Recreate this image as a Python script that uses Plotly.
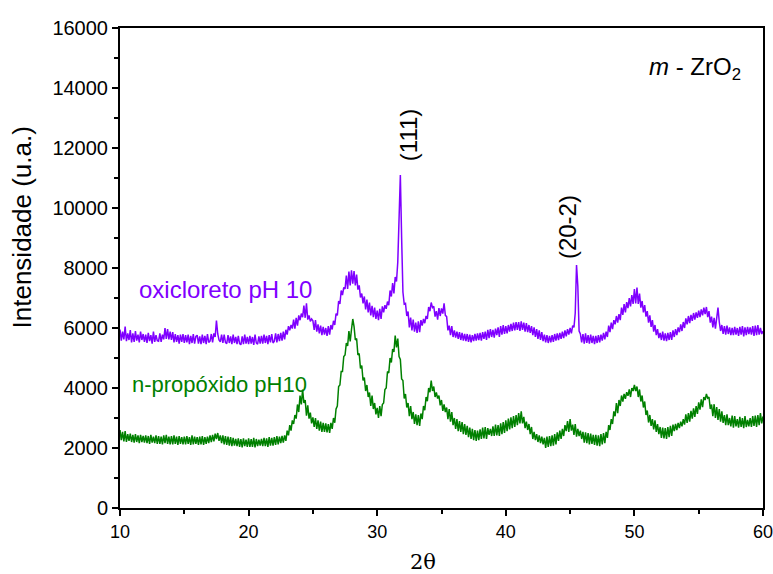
import plotly.graph_objects as go

# 2theta grid: 10.0 .. 60.0 step 0.1
two_theta = [round(10 + 0.1 * i, 1) for i in range(501)]

oxicloreto = [
    5950, 5580, 5880, 5620, 6050, 5560, 5820, 5600, 5930, 5520,
    5820, 5540, 5900, 5580, 5780, 5520, 5880, 5600, 5800, 5540,
    5780, 5500, 5840, 5560, 5760, 5480, 5880, 5540, 5760, 5580,
    5560, 5820, 5540, 5780, 5620, 6000, 5640, 5960, 5620, 5880,
    5600, 5860, 5520, 5800, 5540, 5760, 5480, 5780, 5540, 5800,
    5500, 5760, 5520, 5780, 5460, 5740, 5500, 5800, 5480, 5720,
    5760, 5480, 5720, 5460, 5780, 5500, 5740, 5460, 5800, 5520,
    5560, 5800, 5520, 5820, 5700, 6250, 5800, 5600, 5540, 5780,
    5500, 5780, 5520, 5480, 5760, 5500, 5720, 5460, 5780, 5500,
    5700, 5460, 5740, 5480, 5440, 5720, 5460, 5780, 5480, 5700,
    5460, 5740, 5480, 5700, 5440, 5780, 5500, 5460, 5720, 5480,
    5740, 5480, 5780, 5500, 5740, 5460, 5760, 5520, 5800, 5500,
    5560, 5820, 5520, 5800, 5560, 5840, 5580, 5880, 5620, 5940,
    5780, 6060, 5920, 6100, 5980, 6280, 5980, 6340, 6080, 6420,
    6260, 6480, 6360, 6750, 6340, 6820, 6280, 6420, 6220, 6300,
    6240, 5940, 6260, 5880, 6120, 5820, 6080, 5760, 6040, 5780,
    6000, 5740, 6060, 5780, 6100, 5950, 6240, 6100, 6480, 6420,
    6900, 6800, 7250, 7100, 7350, 7300, 7750, 7300, 7880, 7420,
    7920, 7480, 7900, 7420, 7780, 7280, 7420, 7020, 7150, 6820,
    7050, 6620, 6950, 6520, 6850, 6420, 6740, 6360, 6680, 6300,
    6580, 6260, 6640, 6300, 6720, 6520, 6760, 6640, 6880, 6760,
    7250, 7050, 7500, 7150, 7700, 7550, 8200, 9800, 11100, 9000,
    7200, 6800, 6820, 6400, 6550, 6020, 6350, 5920, 6280, 5880,
    6180, 5840, 6220, 5860, 6260, 6080, 6300, 6160, 6400, 6300,
    6700, 6560, 6850, 6680, 6720, 6380, 6560, 6280, 6660, 6400,
    6650, 6480, 6820, 6420, 6380, 5920, 6080, 5760, 6060, 5700,
    5920, 5680, 5880, 5640, 5860, 5600, 5840, 5580, 5800, 5560,
    5800, 5540, 5780, 5520, 5760, 5560, 5800, 5580, 5820, 5600,
    5840, 5580, 5860, 5640, 5880, 5600, 5940, 5660, 5960, 5700,
    5940, 5680, 5980, 5760, 6020, 5700, 6060, 5780, 6100, 5800,
    6060, 5820, 6100, 5880, 6140, 5900, 6180, 5920, 6200, 5940,
    6200, 5900, 6220, 5940, 6180, 5880, 6160, 5860, 6100, 5840,
    6060, 5760, 6020, 5700, 5960, 5640, 5920, 5600, 5860, 5560,
    5780, 5520, 5760, 5500, 5740, 5520, 5760, 5540, 5800, 5580,
    5820, 5600, 5840, 5640, 5880, 5660, 5920, 5720, 5960, 5780,
    6000, 5820, 6080, 6020, 6500, 8100, 7400, 5900, 5800, 5520,
    5800, 5480, 5820, 5500, 5760, 5480, 5780, 5500, 5740, 5460,
    5740, 5500, 5760, 5520, 5780, 5580, 5840, 5620, 5880, 5700,
    6080, 5860, 6180, 5960, 6260, 6120, 6400, 6180, 6460, 6260,
    6680, 6440, 6800, 6520, 6860, 6660, 7000, 6720, 7100, 6800,
    7300, 6820, 7350, 6800, 7150, 6680, 6900, 6520, 6760, 6380,
    6560, 6180, 6420, 6040, 6260, 5880, 6100, 5760, 5960, 5660,
    5840, 5600, 5880, 5580, 5820, 5560, 5840, 5600, 5860, 5600,
    5920, 5700, 5960, 5760, 6020, 5860, 6120, 5900, 6200, 6000,
    6320, 6120, 6400, 6160, 6440, 6240, 6500, 6280, 6520, 6340,
    6580, 6360, 6620, 6420, 6680, 6460, 6700, 6360, 6560, 6180,
    6380, 6020, 6340, 5980, 6360, 6680, 6200, 5900, 6100, 5800,
    6060, 5780, 6080, 5800, 6020, 5760, 6000, 5760, 6040, 5780,
    6000, 5740, 6040, 5780, 6060, 5720, 6020, 5760, 6040, 5800,
    6020, 5780, 6060, 5740, 6080, 5760, 6100, 5780, 6000, 5800,
    5900,
]

npropoxido = [
    2600, 2260, 2540, 2220, 2560, 2200, 2460, 2240, 2480, 2200,
    2440, 2180, 2460, 2200, 2420, 2160, 2440, 2200, 2400, 2180,
    2420, 2160, 2400, 2140, 2440, 2180, 2380, 2160, 2420, 2140,
    2400, 2140, 2380, 2120, 2420, 2160, 2440, 2140, 2380, 2120,
    2400, 2120, 2420, 2140, 2380, 2100, 2400, 2140, 2360, 2120,
    2380, 2120, 2400, 2140, 2360, 2100, 2420, 2120, 2380, 2140,
    2360, 2100, 2380, 2120, 2400, 2100, 2360, 2140, 2380, 2160,
    2420, 2200, 2440, 2220, 2480, 2300, 2500, 2240, 2420, 2160,
    2420, 2120, 2400, 2100, 2380, 2080, 2360, 2060, 2340, 2080,
    2300, 2060, 2320, 2040, 2300, 2020, 2320, 2060, 2280, 2040,
    2320, 2040, 2300, 2040, 2340, 2020, 2300, 2060, 2280, 2080,
    2300, 2060, 2340, 2060, 2320, 2040, 2360, 2080, 2340, 2080,
    2360, 2100, 2400, 2120, 2380, 2160, 2400, 2180, 2420, 2240,
    2580, 2420, 2760, 2580, 2920, 2800, 3100, 2980, 3450, 3200,
    3750, 3450, 3950, 3500, 3600, 3080, 3420, 2980, 3180, 2820,
    3020, 2700, 3000, 2640, 2920, 2580, 2880, 2540, 2840, 2540,
    2820, 2520, 2800, 2500, 2840, 2640, 3000, 2840, 3300, 3400,
    4050, 4100, 4550, 4550, 5050, 5100, 5500, 5400, 5900, 5550,
    5950, 6300, 6050, 5600, 5650, 5100, 5150, 4650, 4750, 4250,
    4350, 3900, 4100, 3700, 3850, 3400, 3750, 3300, 3500, 3120,
    3340, 3000, 3400, 3060, 3450, 3500, 3950, 4000, 4550, 4500,
    5000, 4850, 5300, 5200, 5750, 5350, 5650, 5050, 4950, 4300,
    4250, 3650, 3800, 3350, 3500, 3060, 3400, 2960, 3200, 2800,
    3120, 2760, 3100, 2740, 3150, 2960, 3400, 3260, 3700, 3560,
    4000, 3860, 4250, 3900, 4050, 3700, 3850, 3650, 3750, 3420,
    3600, 3240, 3450, 3200, 3350, 2960, 3300, 2880, 3200, 2760,
    3000, 2640, 2960, 2560, 2900, 2540, 2860, 2460, 2800, 2440,
    2740, 2360, 2680, 2300, 2640, 2260, 2600, 2240, 2580, 2260,
    2620, 2300, 2680, 2320, 2700, 2300, 2660, 2440, 2640, 2400,
    2720, 2400, 2780, 2420, 2760, 2400, 2820, 2460, 2860, 2500,
    2920, 2560, 2980, 2620, 3020, 2660, 3060, 2700, 3100, 2760,
    3160, 2820, 3220, 2820, 3040, 2660, 2880, 2600, 2800, 2460,
    2700, 2300, 2540, 2260, 2460, 2200, 2420, 2160, 2380, 2120,
    2340, 2000, 2380, 2040, 2400, 2060, 2420, 2080, 2460, 2120,
    2520, 2240, 2580, 2300, 2640, 2400, 2760, 2560, 2900, 2540,
    2960, 2580, 2780, 2440, 2800, 2380, 2640, 2400, 2580, 2300,
    2540, 2180, 2520, 2160, 2500, 2120, 2480, 2140, 2440, 2100,
    2440, 2080, 2420, 2060, 2460, 2120, 2500, 2160, 2540, 2340,
    2760, 2600, 2960, 2800, 3220, 3060, 3500, 3160, 3600, 3400,
    3750, 3550, 3800, 3640, 3860, 3740, 3950, 3700, 4000, 3900,
    4100, 3900, 4050, 3700, 3950, 3550, 3750, 3350, 3550, 3100,
    3250, 2850, 3100, 2740, 2960, 2620, 2920, 2540, 2800, 2460,
    2700, 2340, 2680, 2320, 2660, 2300, 2700, 2360, 2740, 2400,
    2780, 2560, 2800, 2600, 2840, 2660, 2880, 2720, 2960, 2780,
    3120, 2840, 3160, 2880, 3240, 2980, 3320, 3040, 3400, 3140,
    3520, 3280, 3620, 3360, 3700, 3600, 3800, 3660, 3700, 3300,
    3450, 3060, 3460, 3000, 3360, 2940, 3300, 2880, 3220, 2840,
    3100, 2760, 3120, 2760, 3000, 2720, 3080, 2680, 3060, 2720,
    2960, 2680, 3040, 2700, 3000, 2660, 3060, 2700, 2940, 2720,
    3000, 2700, 3060, 2740, 3080, 2700, 3100, 2760, 3160, 2820,
    3050,
]

series_names = ["oxicloreto pH 10", "n-propóxido pH10"]
colors = ["#7F00FF", "#008000"]
x_ticks = [10, 20, 30, 40, 50, 60]
y_ticks = [0, 2000, 4000, 6000, 8000, 10000, 12000, 14000, 16000]

fig = go.Figure()
for ys, name, c in zip([oxicloreto, npropoxido], series_names, colors):
    fig.add_trace(go.Scatter(x=two_theta, y=ys, mode="lines", name=name,
                             line=dict(color=c, width=1.5), showlegend=False))

FONT = "Liberation Sans, Arial, sans-serif"

fig.add_annotation(x=11.3, y=7300, text="oxicloreto pH 10", showarrow=False,
                   xanchor="left", yanchor="middle",
                   font=dict(family=FONT, size=24, color=colors[0]))
fig.add_annotation(x=10.75, y=4130, text="n-propóxido pH10", showarrow=False,
                   xanchor="left", yanchor="middle",
                   font=dict(family=FONT, size=22, color=colors[1]))
fig.add_annotation(x=32.4, y=12430, text="(111)", showarrow=False, textangle=-90,
                   font=dict(family=FONT, size=24, color="black"))
fig.add_annotation(x=44.85, y=9370, text="(20-2)", showarrow=False, textangle=-90,
                   font=dict(family=FONT, size=24, color="black"))
fig.add_annotation(x=54.7, y=14650, text="<i>m</i> - ZrO<sub>2</sub>", showarrow=False,
                   font=dict(family=FONT, size=24, color="black"))

# axis titles as paper annotations
fig.add_annotation(xref="paper", yref="paper", x=-0.152, y=0.585, text="Intensidade (u.a.)",
                   textangle=-90, showarrow=False, xanchor="center", yanchor="middle",
                   font=dict(family=FONT, size=26, color="black"))
fig.add_annotation(xref="paper", yref="paper", x=0.471, y=-0.1125, text="2θ",
                   showarrow=False, xanchor="center", yanchor="middle",
                   font=dict(family="DejaVu Serif, serif", size=21, color="black"))

axis_common = dict(showgrid=False, zeroline=False, showline=True, linecolor="black",
                   linewidth=2, mirror=True, ticks="outside", tickcolor="black",
                   tickwidth=2, ticklen=6, automargin=False, ticklabeloverflow="allow")

fig.update_xaxes(range=[10, 60], tickvals=x_ticks, ticktext=[str(v) for v in x_ticks],
                 tickfont=dict(family=FONT, size=18, color="black"),
                 minor=dict(dtick=5, tick0=0, ticks="outside", ticklen=4, tickwidth=2, tickcolor="black"),
                 **axis_common)
fig.update_yaxes(range=[0, 16000], tickvals=y_ticks, ticktext=[str(v) for v in y_ticks],
                 tickfont=dict(family=FONT, size=20, color="black"),
                 minor=dict(dtick=1000, tick0=0, ticks="outside", ticklen=4, tickwidth=2, tickcolor="black"),
                 **axis_common)

fig.update_layout(width=773, height=574, margin=dict(l=120, r=10, t=28, b=66),
                  plot_bgcolor="white", paper_bgcolor="white")

fig.write_html("out.html")
